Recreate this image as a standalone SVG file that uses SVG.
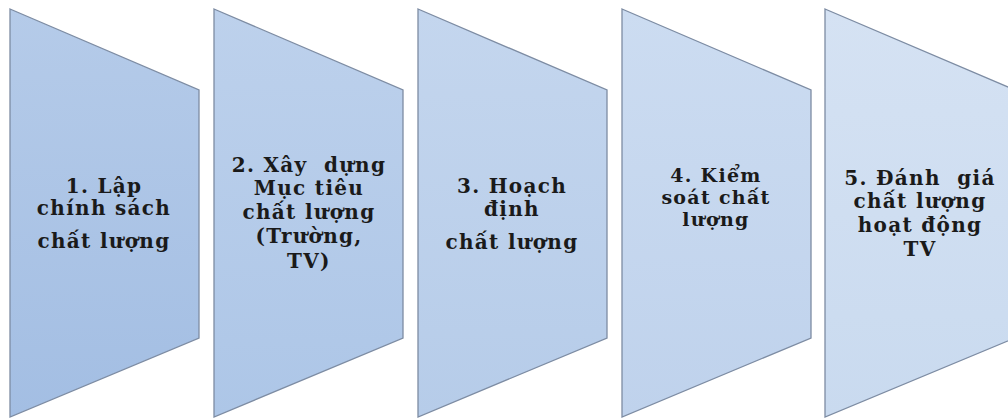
<svg xmlns="http://www.w3.org/2000/svg" width="1008" height="419" viewBox="0 0 1008 419">
<defs>
<linearGradient id="g1" x1="0" y1="0" x2="0" y2="1"><stop offset="0" stop-color="#b5cbe9"/><stop offset="1" stop-color="#a3bee3"/></linearGradient>
<linearGradient id="g2" x1="0" y1="0" x2="0" y2="1"><stop offset="0" stop-color="#bdd1ec"/><stop offset="1" stop-color="#adc6e7"/></linearGradient>
<linearGradient id="g3" x1="0" y1="0" x2="0" y2="1"><stop offset="0" stop-color="#c4d6ee"/><stop offset="1" stop-color="#b6cce9"/></linearGradient>
<linearGradient id="g4" x1="0" y1="0" x2="0" y2="1"><stop offset="0" stop-color="#ccdcf1"/><stop offset="1" stop-color="#bfd2ec"/></linearGradient>
<linearGradient id="g5" x1="0" y1="0" x2="0" y2="1"><stop offset="0" stop-color="#d5e2f3"/><stop offset="1" stop-color="#c9daef"/></linearGradient>
</defs>
<style>
.s{stroke:#7d8ca3;stroke-width:1.3;stroke-linejoin:miter}
.t{fill:#1a1a1a;text-anchor:middle;letter-spacing:1.3px;white-space:pre}
</style>
<g font-family="DejaVu Serif, serif" font-weight="bold" font-size="20">
<g id="node1">
<polygon class="s" fill="url(#g1)" points="10,9 199,90 199,338 10,417"/>
<text class="t" x="104" y="193">1. Lập</text>
<text class="t" x="104" y="215">chính sách</text>
<text class="t" x="104" y="248">chất lượng</text>
</g>
<g id="node2">
<polygon class="s" fill="url(#g2)" points="214,9 403,90 403,338 214,417"/>
<text class="t" x="309" y="172">2. Xây  dựng</text>
<text class="t" x="309" y="195">Mục tiêu</text>
<text class="t" x="309" y="219">chất lượng</text>
<text class="t" x="309" y="243">(Trường,</text>
<text class="t" x="309" y="268">TV)</text>
</g>
<g id="node3">
<polygon class="s" fill="url(#g3)" points="418,9 607,90 607,338 418,417"/>
<text class="t" x="512" y="193">3. Hoạch</text>
<text class="t" x="512" y="216">định</text>
<text class="t" x="512" y="249">chất lượng</text>
</g>
<g id="node4" font-size="19">
<polygon class="s" fill="url(#g4)" points="622,9 811,90 811,338 622,417"/>
<text class="t" x="716" y="182">4. Kiểm</text>
<text class="t" x="716" y="204">soát chất</text>
<text class="t" x="716" y="226">lượng</text>
</g>
<g id="node5">
<polygon class="s" fill="url(#g5)" points="825,9 1015,90 1015,338 825,417"/>
<text class="t" x="920" y="185">5. Đánh  giá</text>
<text class="t" x="920" y="208">chất lượng</text>
<text class="t" x="920" y="232">hoạt động</text>
<text class="t" x="920" y="256">TV</text>
</g>
</g>
<g id="connectors"/>
</svg>
